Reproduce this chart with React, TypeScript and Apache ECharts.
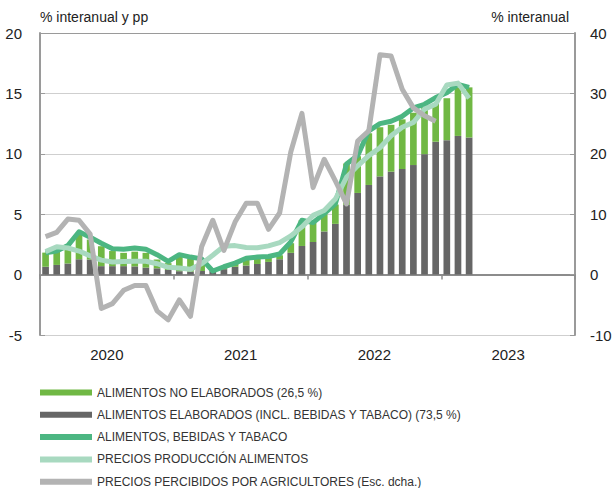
import React, { useEffect, useRef } from "react";
import * as echarts from "echarts";

const years = ["2020", "2021", "2022", "2023"];
const monthNames = ["01", "02", "03", "04", "05", "06", "07", "08", "09", "10", "11", "12"];
const months = years.flatMap((y) => monthNames.map((m) => `${y}-${m}`));

// ALIMENTOS NO ELABORADOS (26,5 %) – contribution, pp
const noElaborados = [
  1.17, 1.1, 1.38, 2.03, 1.65, 1.65, 1.25, 1.1, 1.22, 1.22, 0.73, 0.57,
  1.22, 1.05, 0.9, 0.05, 0.15, 0.25, 0.55, 0.52, 0.4, 0.33, 0.8, 2.13,
  1.6, 1.43, 1.6, 3.43, 3.04, 4.28, 4.07, 3.88, 4.11, 4.33, 4.13, 3.2,
  3.47, 4.02, 4.15,
];
// ALIMENTOS ELABORADOS (INCL. BEBIDAS Y TABACO) (73,5 %) – contribution, pp
const elaborados = [
  0.65, 0.8, 0.92, 1.27, 1.25, 0.7, 0.7, 0.7, 0.68, 0.58, 0.52, 0.38,
  0.28, 0.25, 0.3, 0.3, 0.45, 0.65, 0.75, 0.88, 1.05, 1.27, 1.8, 2.37,
  2.7, 3.57, 4.2, 5.77, 6.76, 7.42, 8.13, 8.52, 8.74, 9.07, 9.97, 11.0,
  11.13, 11.48, 11.35,
];
// ALIMENTOS, BEBIDAS Y TABACO – % interanual
const alimentosBebidasTabaco = [
  1.8, 1.95, 2.4, 3.55, 3.1, 2.6, 2.15, 2.1, 2.2, 2.1, 1.65, 1.1,
  1.65, 1.45, 1.3, 0.3, 0.65, 0.95, 1.35, 1.45, 1.5, 1.7, 2.7, 4.5,
  4.3, 5.05, 5.85, 9.15, 9.85, 11.9, 12.5, 12.7, 13.1, 13.8, 14.1, 14.65,
  15.05, 15.75, 15.5,
];
// PRECIOS PRODUCCIÓN ALIMENTOS – % interanual
const preciosProduccion = [
  1.9, 2.3, 2.2, 1.95, 1.55, 1.2, 1.05, 1.08, 1.1, 1.1, 0.9, 0.6,
  0.55, 0.45, 0.9, 1.6, 2.35, 2.4, 2.25, 2.22, 2.38, 2.65, 3.2, 3.95,
  4.9, 5.3, 6.25, 8.05, 9.0, 9.85, 10.5, 11.5, 12.2, 12.6, 13.7, 14.1,
  15.7, 15.85, 14.6,
];
// PRECIOS PERCIBIDOS POR AGRICULTORES (Esc. dcha.) – % interanual
const preciosAgricultores = [
  6.3, 7.0, 9.2, 9.0, 6.7, -5.6, -4.8, -2.6, -1.8, -1.8, -6.0, -7.5,
  -4.2, -6.9, 4.6, 9.0, 4.0, 8.7, 11.8, 11.8, 7.5, 10.2, 20.3, 26.7,
  14.4, 19.1, 15.5, 11.7, 22.1, 23.8, 36.4, 36.2, 30.7, 27.6, 26.3, 25.4,
];

const leftAxis = { min: -5, max: 20, interval: 5 };
const rightAxis = { min: -10, max: 40, interval: 10 };

const names = {
  noElab: "ALIMENTOS NO ELABORADOS (26,5 %)",
  elab: "ALIMENTOS ELABORADOS (INCL. BEBIDAS Y TABACO) (73,5 %)",
  abt: "ALIMENTOS, BEBIDAS Y TABACO",
  ppi: "PRECIOS PRODUCCIÓN ALIMENTOS",
  agri: "PRECIOS PERCIBIDOS POR AGRICULTORES (Esc. dcha.)",
};

const FONT = "'Liberation Sans', Arial, Helvetica, sans-serif";

export default function App() {
  const ref = useRef<HTMLDivElement>(null);

  useEffect(() => {
    document.body.style.margin = "0";
    if (!ref.current) return;
    const chart = echarts.init(ref.current, undefined, { renderer: "svg" });
    chart.setOption({
      animation: false,
      grid: { left: 40, right: 41, top: 33, bottom: 153 },
      graphic: [
        {
          type: "text",
          left: 40,
          top: 10,
          style: { text: "% interanual y pp", font: `14px ${FONT}`, fill: "#222" },
        },
        {
          type: "text",
          right: 47,
          top: 10,
          style: { text: "% interanual", font: `14px ${FONT}`, fill: "#222" },
        },
      ],
      legend: {
        orient: "vertical",
        left: 40,
        top: 386.5,
        padding: 0,
        itemWidth: 52,
        itemHeight: 6,
        itemGap: 10.3,
        icon: "rect",
        data: [names.noElab, names.elab, names.abt, names.ppi, names.agri],
        textStyle: { fontFamily: FONT, fontSize: 12, color: "#333", lineHeight: 12 },
      },
      xAxis: [
        {
          type: "category",
          data: months,
          position: "bottom",
          boundaryGap: true,
          axisLine: { show: true, onZero: true, lineStyle: { color: "#8c8c8c", width: 2 } },
          axisTick: { show: true, interval: 11, length: 5, lineStyle: { color: "#8c8c8c", width: 1.5 } },
          axisLabel: { show: false },
          splitLine: { show: false },
        },
        {
          type: "category",
          data: years,
          position: "bottom",
          boundaryGap: true,
          axisLine: { show: false, onZero: false },
          axisTick: { show: false },
          axisLabel: { fontFamily: FONT, fontSize: 15, color: "#222", margin: 12 },
          splitLine: { show: false },
        },
      ],
      yAxis: [
        {
          type: "value",
          position: "left",
          ...leftAxis,
          axisLine: { show: true, lineStyle: { color: "#9a9a9a", width: 2 } },
          axisTick: { show: true, inside: true, length: 5, lineStyle: { color: "#9a9a9a" } },
          axisLabel: { fontFamily: FONT, fontSize: 15, color: "#222", margin: 18 },
          splitLine: {
            show: true,
            lineStyle: { color: ["#cfcfcf", "#cfcfcf", "#cfcfcf", "#cfcfcf", "#cfcfcf", "#9a9a9a"], width: 1.2 },
          },
        },
        {
          type: "value",
          position: "right",
          ...rightAxis,
          axisLine: { show: true, lineStyle: { color: "#9a9a9a", width: 2 } },
          axisTick: { show: true, inside: true, length: 5, lineStyle: { color: "#9a9a9a" } },
          axisLabel: { fontFamily: FONT, fontSize: 15, color: "#222", margin: 15 },
          splitLine: { show: false },
        },
      ],
      series: [
        {
          name: names.elab,
          type: "bar",
          stack: "total",
          barWidth: "60%",
          color: "#666666",
          data: elaborados,
        },
        {
          name: names.noElab,
          type: "bar",
          stack: "total",
          barWidth: "60%",
          color: "#70b844",
          data: noElaborados,
        },
        {
          name: names.abt,
          type: "line",
          color: "#4cb682",
          symbol: "none",
          lineStyle: { width: 5, join: "round" },
          data: alimentosBebidasTabaco,
          z: 3,
        },
        {
          name: names.ppi,
          type: "line",
          color: "#a8d9c0",
          symbol: "none",
          lineStyle: { width: 5, join: "round" },
          data: preciosProduccion,
          z: 4,
        },
        {
          name: names.agri,
          type: "line",
          yAxisIndex: 1,
          color: "#b3b3b3",
          symbol: "none",
          lineStyle: { width: 5, join: "round" },
          data: preciosAgricultores,
          z: 5,
        },
      ],
    });
    return () => chart.dispose();
  }, []);

  return <div ref={ref} style={{ width: 616, height: 488 }} />;
}
